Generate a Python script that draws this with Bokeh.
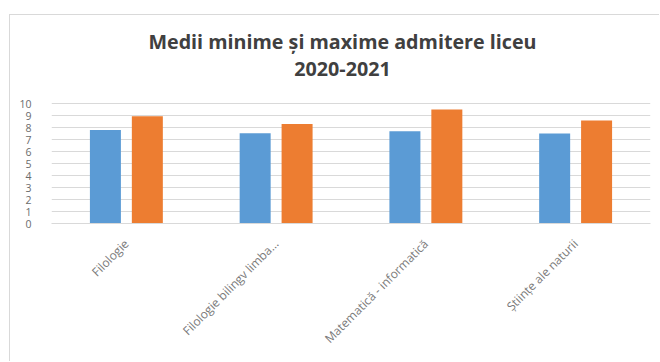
from bokeh.plotting import figure
from bokeh.models import ColumnDataSource, FactorRange, Range1d, Label, FixedTicker
from bokeh.transform import dodge
from bokeh.embed import file_html
from bokeh.resources import INLINE
import math

categories = ["Filologie", "Filologie bilingv limba…", "Matematică - informatică", "Științe ale naturii"]
medii_minime = [7.82, 7.54, 7.71, 7.51]
medii_maxime = [8.96, 8.32, 9.52, 8.60]
y_ticks = list(range(0, 11))
title_lines = ["Medii minime și maxime admitere liceu", "2020-2021"]

source = ColumnDataSource(dict(cat=categories, mn=medii_minime, mx=medii_maxime))

# canvas is offset by the outer chart border (left 9px+1, top 14px+1);
# the frame reaches the top of the canvas so the title can sit inside it
p = figure(x_range=FactorRange(*categories), y_range=Range1d(0, 17.38),
           width=650, height=347, output_backend="svg", toolbar_location=None,
           min_border_left=41, min_border_right=10, min_border_top=0, min_border_bottom=139)
p.styles = {"margin-left": "9px", "margin-top": "14px",
            "border-left": "1px solid #D9D9D9", "border-top": "1px solid #D9D9D9"}

p.vbar(x=dodge("cat", -0.14, range=p.x_range), top="mn", width=0.207, source=source,
       color="#5B9BD5", line_color=None)
p.vbar(x=dodge("cat", 0.14, range=p.x_range), top="mx", width=0.207, source=source,
       color="#ED7D31", line_color=None)

p.outline_line_color = None
p.background_fill_color = "white"
p.border_fill_color = "white"
p.xgrid.grid_line_color = None
p.ygrid.grid_line_color = "#D9D9D9"
p.ygrid.grid_line_width = 1
p.ygrid.ticker = FixedTicker(ticks=y_ticks)

p.yaxis.ticker = FixedTicker(ticks=y_ticks)
p.yaxis.axis_line_color = None
p.yaxis.major_tick_line_color = None
p.yaxis.minor_tick_line_color = None
p.yaxis.major_label_standoff = 14
p.yaxis.major_label_text_font = "Open Sans"
p.yaxis.major_label_text_font_size = "10.5px"
p.yaxis.major_label_text_color = "#6b6b6b"

p.xaxis.axis_line_color = "#D9D9D9"
p.xaxis.major_tick_line_color = None
p.xaxis.minor_tick_line_color = None
p.xaxis.major_label_orientation = math.pi / 4
p.xaxis.major_label_standoff = 12
p.xaxis.major_label_text_font = "Open Sans"
p.xaxis.major_label_text_font_size = "12px"
p.xaxis.major_label_text_color = "#7a7a7a"

for txt, yy in zip(title_lines, [15.2, 12.9]):
    p.add_layout(Label(x=1.943, y=yy, text=txt, text_align="center", text_baseline="middle",
                       text_font="Open Sans", text_font_style="bold", text_font_size="19.7px",
                       text_color="#404040"))

open("out.html", "w").write(file_html(p, INLINE))
